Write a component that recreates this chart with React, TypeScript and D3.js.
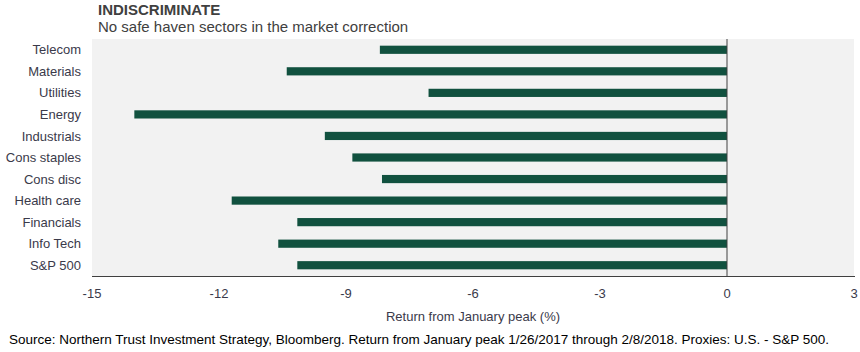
import React, { useEffect, useRef } from 'react';
import * as d3 from 'd3';

const sectors = ['Telecom', 'Materials', 'Utilities', 'Energy', 'Industrials', 'Cons staples', 'Cons disc', 'Health care', 'Financials', 'Info Tech', 'S&P 500'];
const returns = [-8.2, -10.4, -7.05, -14.0, -9.5, -8.85, -8.15, -11.7, -10.15, -10.6, -10.15];
const xTicks = [-15, -12, -9, -6, -3, 0, 3];

const App = () => {
  const chartRef = useRef<SVGSVGElement>(null);

  useEffect(() => {
    const svg = d3.select(chartRef.current);
    svg.selectAll('*').remove();

    const left = 92, right = 854, top = 39, bottom = 276;

    const x = d3.scaleLinear().domain([-15, 3]).range([left, right]);
    const y = d3.scaleBand().domain(sectors).range([top, bottom]).paddingInner(0.62).paddingOuter(0.31);

    const data = sectors.map((s, i) => ({ name: s, value: returns[i] }));

    // fond gris
    svg.append('rect')
      .attr('x', left).attr('y', top)
      .attr('width', right - left).attr('height', bottom - top)
      .style('fill', '#f2f2f2');

    svg.append('g').selectAll('rect')
      .data(data)
      .enter().append('rect')
      .attr('x', d => x(d.value))
      .attr('width', d => x(0) - x(d.value))
      .attr('y', d => y(d.name)!)
      .attr('height', y.bandwidth())
      .style('fill', '#11513f');

    // ligne zéro
    svg.append('line')
      .attr('x1', x(0)).attr('x2', x(0))
      .attr('y1', top).attr('y2', bottom)
      .style('stroke', '#404040').style('stroke-width', 1);

    // axe du bas
    svg.append('line')
      .attr('x1', left).attr('x2', right + 1)
      .attr('y1', bottom + 0.5).attr('y2', bottom + 0.5)
      .style('stroke', '#404040').style('stroke-width', 1.2);

    svg.append('g').selectAll('text')
      .data(xTicks)
      .enter().append('text')
      .attr('x', d => x(d))
      .attr('y', 298)
      .attr('text-anchor', 'middle')
      .style('font-family', 'Liberation Sans, Arial, sans-serif')
      .style('font-size', '13px')
      .style('fill', '#3a3a4a')
      .text(d => d);

    svg.append('g').selectAll('text')
      .data(sectors)
      .enter().append('text')
      .attr('x', 81)
      .attr('y', d => y(d)! + y.bandwidth() / 2)
      .attr('dy', '0.35em')
      .attr('text-anchor', 'end')
      .style('font-family', 'Liberation Sans, Arial, sans-serif')
      .style('font-size', '13px')
      .style('fill', '#3a3a4a')
      .text(d => d);

    // titre de l'axe, centré sur le domaine
    svg.append('text')
      .attr('x', (left + right) / 2).attr('y', 321)
      .attr('text-anchor', 'middle')
      .style('font-family', 'Liberation Sans, Arial, sans-serif')
      .style('font-size', '13px')
      .style('fill', '#3a3a4a')
      .text('Return from January peak (%)');

    svg.append('text')
      .attr('x', 98).attr('y', 15)
      .style('font-family', 'Liberation Sans, Arial, sans-serif')
      .style('font-size', '15px')
      .style('font-weight', 'bold')
      .style('fill', '#404040')
      .text('INDISCRIMINATE');

    svg.append('text')
      .attr('x', 98).attr('y', 32)
      .style('font-family', 'Liberation Sans, Arial, sans-serif')
      .style('font-size', '15px')
      .style('fill', '#404040')
      .text('No safe haven sectors in the market correction');

    svg.append('text')
      .attr('x', 9).attr('y', 344)
      .attr('textLength', 820)
      .attr('lengthAdjust', 'spacingAndGlyphs')
      .style('font-family', 'Liberation Sans Narrow, Arial, sans-serif')
      .style('font-size', '13px')
      .style('fill', '#000')
      .text('Source: Northern Trust Investment Strategy, Bloomberg. Return from January peak 1/26/2017 through 2/8/2018.  Proxies: U.S. - S&P 500.');
  }, []);

  return (
    <svg ref={chartRef} width={860} height={352}
      style={{ position: 'absolute', left: 0, top: 0, background: '#fff' }} />
  );
};

export default App;
